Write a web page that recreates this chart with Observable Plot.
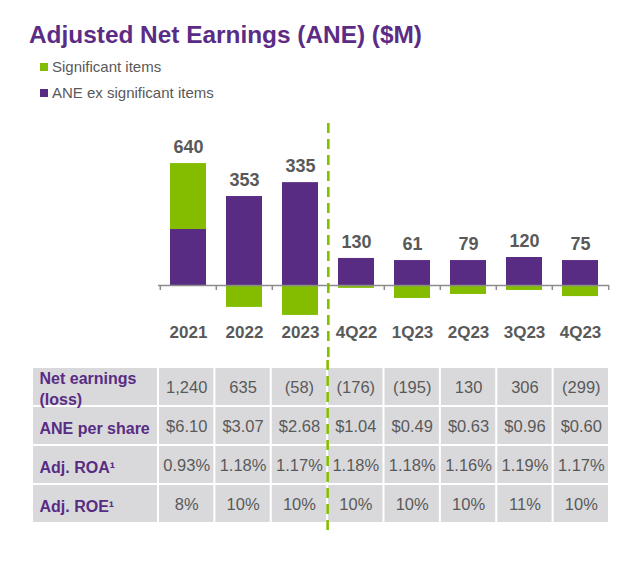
<!DOCTYPE html>
<html><head><meta charset="utf-8">
<script src="https://cdn.jsdelivr.net/npm/d3@7"></script>
<script src="https://cdn.jsdelivr.net/npm/@observablehq/plot@0.6"></script>
<style>
body{margin:0;background:#fff;font-family:"Liberation Sans",Arial,sans-serif;}
#wrap{position:relative;width:640px;height:568px;overflow:hidden;}
#title{position:absolute;left:29px;top:23px;font-size:24.4px;font-weight:bold;color:#5b2c86;line-height:1;white-space:nowrap;}
.leg{position:absolute;left:40px;font-size:15px;color:#595959;line-height:18px;display:flex;align-items:center;white-space:nowrap;}
.leg .sw{width:8px;height:8px;margin-right:4px;display:inline-block;}
#chart{position:absolute;left:0;top:110px;}
#table{position:absolute;left:0;top:360px;}
</style></head><body>
<div id="wrap">
  <div id="title">Adjusted Net Earnings (ANE) ($M)</div>
  <div id="legend"></div>
  <div id="chart"></div>
  <div id="table"></div>
</div>
<script>
// ---- data ----
const categories = ["2021","2022","2023","4Q22","1Q23","2Q23","3Q23","4Q23"];
const seriesNames = ["Significant items","ANE ex significant items"];
const aneExSignificant = [294, 467, 540, 142, 131, 131, 147, 131];
const significantItems = [346, -115, -157, -15, -68, -47, -26, -58];
const totalLabels = ["640","353","335","130","61","79","120","75"];
const rowLabels = ["Net earnings\n(loss)","ANE per share","Adj. ROA¹","Adj. ROE¹"];
const netEarnings = ["1,240","635","(58)","(176)","(195)","130","306","(299)"];
const anePerShare = ["$6.10","$3.07","$2.68","$1.04","$0.49","$0.63","$0.96","$0.60"];
const adjROA = ["0.93%","1.18%","1.17%","1.18%","1.18%","1.16%","1.19%","1.17%"];
const adjROE = ["8%","10%","10%","10%","10%","10%","11%","10%"];
const dividerBefore = "4Q22";

// ---- style ----
const GREEN = "#84bd00", PURPLE = "#582c83", GRAY = "#595959", AXIS = "#8c8c8c", CELL = "#d9d9dc";
const FONT = '"Liberation Sans", Arial, sans-serif';
const W = 640, ML = 158, MR = 31, TABLE_LEFT = 32;
const step = (W - ML - MR) / categories.length;
const seriesColors = [GREEN, PURPLE];

// legend
const legend = document.getElementById("legend");
seriesNames.forEach((s, i) => {
  const d = document.createElement("div");
  d.className = "leg";
  d.style.top = (58 + i * 26) + "px";
  d.innerHTML = `<span class="sw" style="background:${seriesColors[i]}"></span>${s}`;
  legend.appendChild(d);
});

// ---- chart ----
const bars = [];
categories.forEach((c, i) => {
  bars.push({cat: c, series: seriesNames[1], value: aneExSignificant[i]});
  bars.push({cat: c, series: seriesNames[0], value: significantItems[i]});
});
const tops = categories.map((c, i) => ({cat: c, y: aneExSignificant[i] + Math.max(0, significantItems[i]), label: totalLabels[i]}));

const chart = Plot.plot({
  width: W, height: 250,
  marginLeft: ML, marginRight: MR, marginTop: 10, marginBottom: 10,
  x: {type: "band", domain: categories, paddingInner: 0.36, paddingOuter: 0.18, axis: null},
  y: {domain: [-341, 866], axis: null},
  color: {domain: seriesNames, range: seriesColors},
  style: {fontFamily: FONT, background: "transparent", overflow: "visible"},
  marks: [
    Plot.barY(bars, {x: "cat", y: "value", fill: "series"}),
    Plot.ruleY([0], {stroke: AXIS, strokeWidth: 1.5}),
    Plot.ruleX(categories, {x: d => d, y1: 0, y2: 0, dx: -step / 2, insetBottom: -5, stroke: AXIS, strokeWidth: 1.5}),
    Plot.ruleX(categories.slice(-1), {x: d => d, y1: 0, y2: 0, dx: step / 2, insetBottom: -5, stroke: AXIS, strokeWidth: 1.5}),
    Plot.ruleX([dividerBefore], {x: d => d, dx: -step / 2, insetTop: 3, insetBottom: -10, stroke: GREEN, strokeWidth: 2.6, strokeDasharray: "10,6"}),
    Plot.text(tops, {x: "cat", y: "y", text: "label", dy: -16, fontSize: 18, fontWeight: "bold", fill: GRAY}),
    Plot.text(categories, {x: d => d, frameAnchor: "bottom", dy: -13, fontSize: 17, fontWeight: "bold", fill: GRAY})
  ]
});
document.getElementById("chart").appendChild(chart);

// ---- table ----
const rowsData = [netEarnings, anePerShare, adjROA, adjROE];
const headerSpan = (ML - TABLE_LEFT) / step;
const cells = [];
rowsData.forEach((vals, r) => vals.forEach((v, i) => cells.push({row: rowLabels[r], x1: i, x2: i + 1, text: v})));
const headers = rowLabels.map(r => ({row: r, x1: -headerSpan, x2: 0}));
const dividerIndex = categories.indexOf(dividerBefore);

const table = Plot.plot({
  width: W, height: 180,
  marginLeft: ML, marginRight: MR, marginTop: 7, marginBottom: 17,
  x: {domain: [0, categories.length], axis: null},
  y: {type: "band", domain: rowLabels, padding: 0, axis: null},
  style: {fontFamily: FONT, background: "transparent", overflow: "visible"},
  marks: [
    Plot.barX(headers, {x1: "x1", x2: "x2", y: "row", fill: CELL, inset: 1}),
    Plot.barX(cells, {x1: "x1", x2: "x2", y: "row", fill: CELL, inset: 1}),
    Plot.text(headers, {x: "x1", y: "row", text: "row", dx: 7, dy: 1, textAnchor: "start", fontSize: 16, fontWeight: "bold", fill: PURPLE, lineHeight: 1.3}),
    Plot.text(cells, {x: d => (d.x1 + d.x2) / 2, y: "row", text: "text", dy: 1, fontSize: 16.5, fill: GRAY}),
    Plot.ruleX([dividerIndex], {x: d => d, insetTop: -7, insetBottom: -7, stroke: GREEN, strokeWidth: 2.6, strokeDasharray: "10,6"})
  ]
});
document.getElementById("table").appendChild(table);
</script>
</body></html>
